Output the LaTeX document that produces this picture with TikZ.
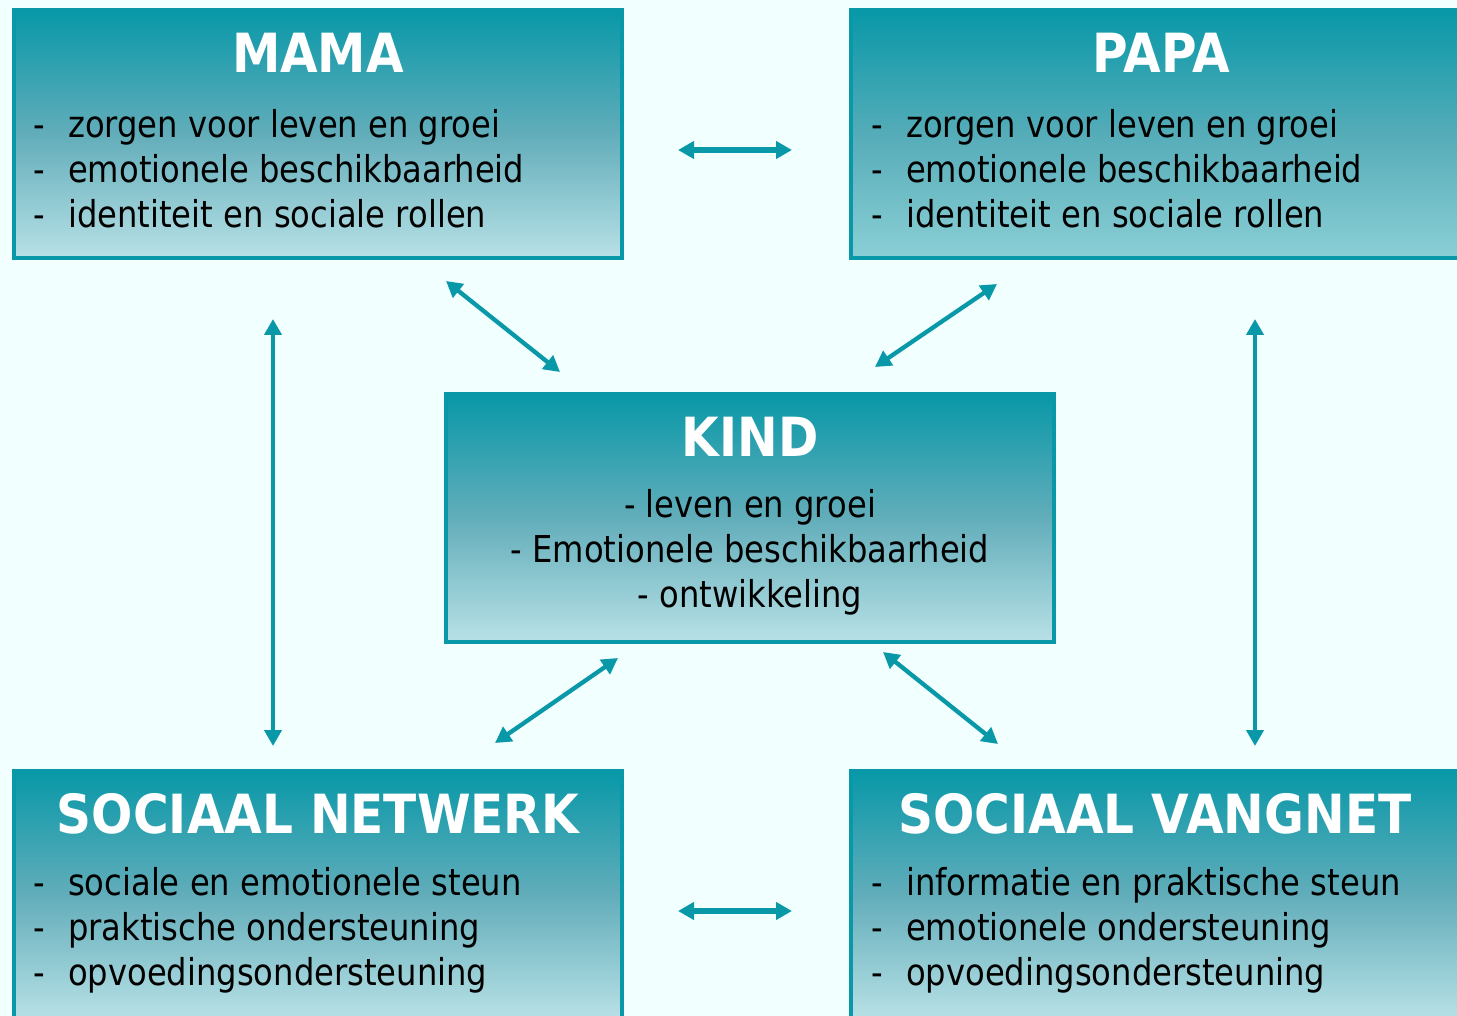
\documentclass[tikz,border=0pt]{standalone}
\usepackage{fontspec}
\setmainfont{DejaVu Sans}[FakeStretch=0.87]
\newfontfamily\headfont{DejaVu Sans}[FakeStretch=0.9]
\usetikzlibrary{arrows.meta}

\definecolor{rim}{HTML}{0898A8}
\definecolor{paper}{HTML}{F2FFFF}
\definecolor{fademid}{HTML}{62ADBA}
\definecolor{fadelow}{HTML}{B8E1E6}
\definecolor{fadepapa}{HTML}{8BCFD6}
\definecolor{fademidpapa}{HTML}{55ACB8}

\newcommand{\itemdash}{\makebox[35pt][l]{-}}

\tikzset{
  box/.style={draw=rim, line width=4pt, minimum width=608pt, minimum height=248pt,
    inner sep=0pt, top color=rim, bottom color=fadelow, middle color=fademid},
  head/.style={text=white, inner sep=0pt, font=\headfont\fontsize{54}{60}\selectfont\bfseries},
  items/.style={inner sep=0pt, align=left, anchor=west, font=\fontsize{37}{45}\selectfont},
  link/.style={rim, line width=4.3pt,
    {Triangle[length=16pt,width=17pt]}-{Triangle[length=16pt,width=17pt]}},
  wide link/.style={link, line width=5.5pt},
}

\begin{document}
\begin{tikzpicture}[x=1pt,y=-1pt]
\fill[paper] (0,0) rectangle (1457,1016);
\useasboundingbox (0,0) rectangle (1457,1016);

% boxes
\node[box] (mama) at (318,134) {};
\node[box, bottom color=fadepapa, middle color=fademidpapa] (papa) at (1155,134) {};
\node[box] (kind) at (749.5,517.5) {};
\node[box] (netwerk) at (318,895) {};
\node[box] (vangnet) at (1155,895) {};

% titles
\node[head] (mamahead) at (318,53) {MAMA};
\node[head] (papahead) at (1161,53) {PAPA};
\node[head] (kindhead) at (750,437) {KIND};
\node[head] (netwerkhead) at (318,814) {SOCIAAL NETWERK};
\node[head] (vangnethead) at (1155,814) {SOCIAAL VANGNET};

% lists
\node[items] (mamalist) at (33,169) {\itemdash zorgen voor leven en groei\\
  \itemdash emotionele beschikbaarheid\\ \itemdash identiteit en sociale rollen};
\node[items] (papalist) at (871,169) {\itemdash zorgen voor leven en groei\\
  \itemdash emotionele beschikbaarheid\\ \itemdash identiteit en sociale rollen};
\node[items, align=center, anchor=center] (kindlist) at (750,552) {- leven en groei\\
  - Emotionele beschikbaarheid\\ - ontwikkeling};
\node[items] (netwerklist) at (33,930) {\itemdash sociale en emotionele steun\\
  \itemdash praktische ondersteuning\\ \itemdash opvoedingsondersteuning};
\node[items] (vangnetlist) at (871,930) {\itemdash informatie en praktische steun\\
  \itemdash emotionele ondersteuning\\ \itemdash opvoedingsondersteuning};

% arrow ends
\coordinate (mp1) at (678,150);  \coordinate (mp2) at (792,150);
\coordinate (nv1) at (678,911);  \coordinate (nv2) at (792,911);
\coordinate (mn1) at (273,319);  \coordinate (mn2) at (273,746);
\coordinate (pv1) at (1255,319); \coordinate (pv2) at (1255,746);
\coordinate (mk1) at (446,281);  \coordinate (mk2) at (560,372);
\coordinate (pk1) at (997,284);  \coordinate (pk2) at (875,367);
\coordinate (kn1) at (618,658);  \coordinate (kn2) at (495,743);
\coordinate (kv1) at (883,652);  \coordinate (kv2) at (998,744);

\draw[wide link] (mp1) -- (mp2);
\draw[wide link] (nv1) -- (nv2);
\draw[link] (mn1) -- (mn2);
\draw[link] (pv1) -- (pv2);
\draw[link] (mk1) -- (mk2);
\draw[link] (pk1) -- (pk2);
\draw[link] (kn1) -- (kn2);
\draw[link] (kv1) -- (kv2);
\end{tikzpicture}
\end{document}
